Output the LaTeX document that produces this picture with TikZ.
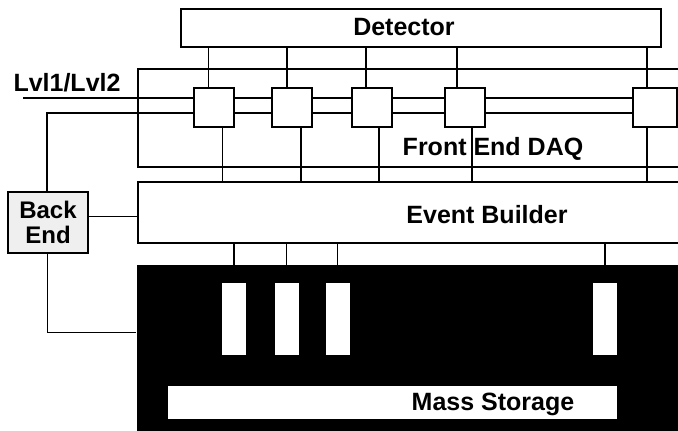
\documentclass[tikz,border=0pt]{standalone}
\usepackage{fontspec}
\setmainfont{Liberation Sans}
\usepackage{xcolor}
\usetikzlibrary{positioning,calc,backgrounds}
\definecolor{speckle}{HTML}{EFEFEF}

\begin{document}
\begin{tikzpicture}[x=1pt,y=-1pt,font=\bfseries\fontsize{25}{25}\selectfont,line width=1.7pt]
\tikzset{region/.style={draw,line width=2pt,inner sep=0pt}, fe/.style={draw,fill=white,line width=2pt,minimum width=40pt,minimum height=39pt,inner sep=0pt}, slot/.style={fill=white,minimum width=24pt,minimum height=72pt,inner sep=0pt}, lbl/.style={inner sep=0pt,anchor=base}, wire/.style={line width=1.4pt}}
\clip (0,0) rectangle (678,431);
\node[region,line width=2.6pt,minimum width=480pt,minimum height=38pt] (det) at (421,28) {};
\node[region,minimum width=552pt,minimum height=98pt] (fed) at (414,118) {};
\node[region,minimum width=552pt,minimum height=61pt] (eb) at (414,212.5) {};
\node[fill=black,minimum width=553pt,minimum height=175pt,inner sep=0pt] (ms) at (413.5,352.5) {};
\node[slot] (s1) at (234,319) {};
\node[slot] (s2) at (286.5,319) {};
\node[slot] (s3) at (337.5,319) {};
\node[slot] (s4) at (605,319) {};
\node[fill=white,minimum width=449pt,minimum height=33pt,inner sep=0pt] (msbar) at (392.5,402.5) {};
\node[fe] (fe1) at (213.5,107.5) {};
\node[fe] (fe2) at (292,107.5) {};
\node[fe] (fe3) at (372,107.5) {};
\node[fe] (fe4) at (465,107.5) {};
\node[fe,minimum width=44pt] (fe5) at (655,107.5) {};
\node[region,line width=2.2pt,fill=speckle,minimum width=80pt,minimum height=61pt,align=center,font=\bfseries\fontsize{24}{24.5}\selectfont] (be) at (48,222.5) {Back\\End};
% labels
\node[lbl] (detlbl) at (404,35) {Detector};
\node[lbl] (fedlbl) at (493,155) {Front End DAQ};
\node[lbl] (eblbl) at (487,223) {Event Builder};
\node[lbl] (mslbl) at (493,410) {Mass Storage};
\node[lbl] (lvllbl) at (67,91) {Lvl1/Lvl2};
\coordinate (lvl) at (23,98);
\coordinate (lvlend) at (690,98);
\coordinate (bus) at (690,113);
\begin{scope}[on background layer]
\draw[line width=2pt] (lvl) -- (lvlend);
\draw[line width=2pt] ([xshift=-1pt]be.north) |- (bus);
\draw (be.east) ++(0,6pt) coordinate (bea) -- (bea -| eb.west);
\draw (be.south) ++(-1pt,0) coordinate (beb) |- ([yshift=20pt]ms.west);
\foreach \i/\a/\b in {1/-5/9,2/-5/9,3/-6/7,4/-8/7,5/-8/-8}{
  \draw[wire] ([xshift=\a pt]fe\i.north) -- ([xshift=\a pt]fe\i.north |- det.south);
  \draw[wire] ([xshift=\b pt]fe\i.south) -- ([xshift=\b pt]fe\i.south |- eb.north);
}
\foreach \i in {1,...,4}
  \draw[wire] (s\i.north) -- (s\i.north |- eb.south);
\end{scope}
\end{tikzpicture}
\end{document}
